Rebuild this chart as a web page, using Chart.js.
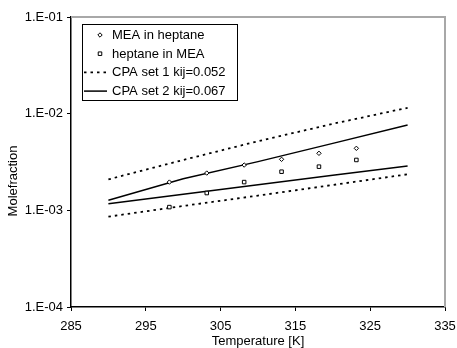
<!DOCTYPE html>
<html>
<head>
<meta charset="utf-8">
<script src="https://cdn.jsdelivr.net/npm/chart.js@4.4.1/dist/chart.umd.min.js"></script>
<style>
  body { margin: 0; background: #fff; }
  canvas { display: block; }
</style>
</head>
<body>
<canvas id="chart" width="457" height="348"></canvas>
<script>
// experimental points
const tempExp = [298.15, 303.15, 308.15, 313.15, 318.15, 323.15];
const meaInHeptane = [1.96e-3, 2.43e-3, 2.94e-3, 3.37e-3, 3.89e-3, 4.38e-3];
const heptaneInMea = [1.08e-3, 1.51e-3, 1.96e-3, 2.51e-3, 2.83e-3, 3.32e-3];

// CPA model curves
const tempCalc = [290, 300, 310, 320, 330];
const set1Mea = [2.09e-3, 3.32e-3, 5.19e-3, 7.85e-3, 1.15e-2];
const set1Hep = [8.6e-4, 1.11e-3, 1.42e-3, 1.83e-3, 2.36e-3];
const set2Mea = [1.27e-3, 2.12e-3, 3.19e-3, 4.93e-3, 7.63e-3];
const set2Hep = [1.17e-3, 1.47e-3, 1.84e-3, 2.30e-3, 2.88e-3];

const xTicks = [285, 295, 305, 315, 325, 335];
const yTicks = [1e-4, 1e-3, 1e-2, 1e-1];
const yTickLabels = ['1.E-04', '1.E-03', '1.E-02', '1.E-01'];
const legendLabels = ['MEA in heptane', 'heptane in MEA', 'CPA set 1 kij=0.052', 'CPA set 2 kij=0.067'];

const FONT = { family: '"Liberation Sans", Arial, sans-serif', size: 13 };

const pts = (xs, ys) => xs.map((x, i) => ({ x: x, y: ys[i] }));

const lineStyle = (data, dashed) => ({
    data: data,
    showLine: true,
    borderColor: '#000',
    borderWidth: dashed ? 1.8 : 1.5,
    borderDash: dashed ? [2.5, 4] : [],
    pointRadius: 0,
    fill: false,
    tension: 0
});

// legend entries: [kind, dataset index]
const legendItems = [
    { kind: 'point', ds: 0 },
    { kind: 'point', ds: 1 },
    { kind: 'line', ds: 2 },
    { kind: 'line', ds: 4 }
];

const frameAndLegend = {
    id: 'frameAndLegend',
    beforeDatasetsDraw(chart) {
        const { ctx, chartArea: a } = chart;
        ctx.save();
        ctx.strokeStyle = '#a8a8a8';
        ctx.lineWidth = 2;
        ctx.beginPath();
        ctx.moveTo(a.left, a.top);
        ctx.lineTo(a.right, a.top);
        ctx.lineTo(a.right, a.bottom);
        ctx.stroke();
        ctx.restore();
    },
    afterDatasetsDraw(chart) {
        const ctx = chart.ctx;
        ctx.save();
        // legend box
        const bx = 82, by = 24, bw = 155, bh = 76;
        ctx.fillStyle = '#fff';
        ctx.fillRect(bx, by, bw, bh);
        ctx.strokeStyle = '#000';
        ctx.lineWidth = 1;
        ctx.strokeRect(bx + 0.5, by + 0.5, bw, bh);

        ctx.font = FONT.size + 'px ' + FONT.family;
        ctx.textBaseline = 'middle';
        legendItems.forEach((item, i) => {
            const y = 35 + i * 18.7;
            const ds = chart.data.datasets[item.ds];
            if (item.kind === 'point') {
                ctx.fillStyle = '#fff';
                ctx.strokeStyle = '#000';
                ctx.lineWidth = ds.pointBorderWidth;
                Chart.helpers.drawPoint(ctx, {
                    pointStyle: ds.pointStyle,
                    radius: ds.pointRadius,
                    rotation: 0,
                    borderWidth: ds.pointBorderWidth
                }, 100, y);
            } else {
                ctx.strokeStyle = '#000';
                ctx.lineWidth = ds.borderWidth;
                ctx.setLineDash(ds.borderDash);
                ctx.beginPath();
                ctx.moveTo(84, y);
                ctx.lineTo(107, y);
                ctx.stroke();
                ctx.setLineDash([]);
            }
            ctx.fillStyle = '#000';
            ctx.fillText(legendLabels[i], 112, y + 0.5);
        });

        // y axis title
        ctx.fillStyle = '#000';
        ctx.translate(13, 181);
        ctx.rotate(-Math.PI / 2);
        ctx.textAlign = 'center';
        ctx.fillText('Molefraction', 0, 0);
        ctx.restore();
    }
};

const ctx = document.getElementById('chart').getContext('2d');
const chart = new Chart(ctx, {
    type: 'scatter',
    data: {
        datasets: [
            {
                label: legendLabels[0],
                data: pts(tempExp, meaInHeptane),
                pointStyle: 'rectRot',
                pointRadius: 2.2,
                pointBorderWidth: 1,
                pointBackgroundColor: '#fff',
                pointBorderColor: '#000'
            },
            {
                label: legendLabels[1],
                data: pts(tempExp, heptaneInMea),
                pointStyle: 'rect',
                pointRadius: 2.5,
                pointBorderWidth: 1,
                pointBackgroundColor: '#fff',
                pointBorderColor: '#000'
            },
            Object.assign({ label: legendLabels[2] }, lineStyle(pts(tempCalc, set1Mea), true)),
            Object.assign({ label: legendLabels[2] }, lineStyle(pts(tempCalc, set1Hep), true)),
            Object.assign({ label: legendLabels[3] }, lineStyle(pts(tempCalc, set2Mea), false)),
            Object.assign({ label: legendLabels[3] }, lineStyle(pts(tempCalc, set2Hep), false))
        ]
    },
    options: {
        responsive: false,
        animation: false,
        devicePixelRatio: 1,
        layout: { padding: { top: 17, right: 12, left: 0, bottom: 0 } },
        plugins: {
            legend: { display: false },
            tooltip: { enabled: false }
        },
        scales: {
            x: {
                type: 'linear',
                min: 285,
                max: 335,
                afterBuildTicks: s => { s.ticks = xTicks.map(v => ({ value: v })); },
                afterFit: s => { s.height = 41; s.paddingLeft = 0; s.paddingRight = 0; },
                grid: { drawOnChartArea: false, drawTicks: true, tickLength: 4, color: '#000', lineWidth: 1 },
                border: { color: '#000', width: 1.5 },
                ticks: { font: FONT, color: '#000', padding: 8, maxRotation: 0 },
                title: { display: true, text: 'Temperature [K]', font: FONT, color: '#000', padding: { top: 0, bottom: -1 } }
            },
            y: {
                type: 'logarithmic',
                min: 1e-4,
                max: 1e-1,
                afterBuildTicks: s => { s.ticks = yTicks.map(v => ({ value: v })); },
                afterFit: s => { s.width = 71; s.paddingTop = 0; s.paddingBottom = 0; },
                grid: { drawOnChartArea: false, drawTicks: true, tickLength: 4, color: '#000', lineWidth: 1 },
                border: { color: '#000', width: 1.5 },
                ticks: {
                    font: FONT,
                    color: '#000',
                    padding: 4,
                    callback: (v, i) => yTickLabels[i]
                }
            }
        }
    },
    plugins: [frameAndLegend]
});
</script>
</body>
</html>
